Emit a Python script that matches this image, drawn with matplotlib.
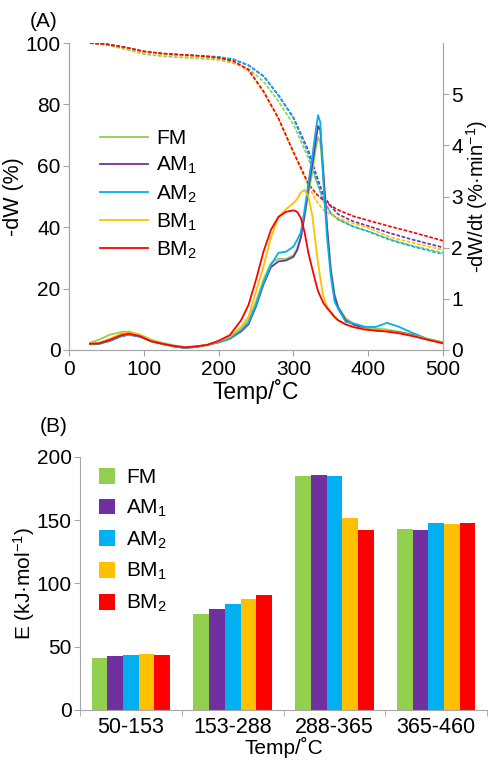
import numpy as np
import matplotlib
matplotlib.use('Agg')
import matplotlib.pyplot as plt

plt.rcParams['font.family'] = ['Liberation Sans', 'DejaVu Sans']
plt.rcParams['mathtext.fontset'] = 'custom'
plt.rcParams['mathtext.rm'] = 'Liberation Sans'
plt.rcParams['mathtext.default'] = 'rm'
plt.rcParams['font.size'] = 15

names = ['FM', 'AM$_1$', 'AM$_2$', 'BM$_1$', 'BM$_2$']
colors = ['#92D050', '#7030A0', '#00B0F0', '#FFC000', '#FF0000']

# TG curves, -dW (%)
temp_tg = [28, 50, 75, 100, 125, 150, 175, 200, 220, 240, 260, 280, 300, 320, 330, 340, 350,
           360, 380, 400, 430, 460, 500]
tg_fm = [100, 99.4, 98.0, 96.4, 95.7, 95.3, 95.0, 94.5, 93.4, 91.6, 87.5, 81.0, 73.5, 62.5, 55.5,
         48.5, 44.6, 42.5, 40.3, 38.7, 36.0, 33.9, 31.7]
tg_am1 = [100, 99.6, 98.6, 97.2, 96.5, 96.1, 95.8, 95.4, 94.6, 92.7, 89.2, 83.0, 75.8, 65.0, 57.5,
          50.5, 46.8, 44.2, 41.9, 40.4, 38.0, 35.9, 33.4]
tg_am2 = [100, 99.6, 98.6, 97.2, 96.5, 96.1, 95.8, 95.5, 94.7, 92.8, 89.3, 83.0, 75.5, 64.0, 56.0,
          49.0, 44.6, 42.5, 40.2, 38.6, 35.8, 33.7, 31.2]
tg_bm1 = [100, 99.5, 98.4, 97.0, 96.3, 95.9, 95.5, 95.0, 93.8, 91.0, 84.0, 75.3, 64.4, 53.5, 48.8,
          45.6, 44.0, 43.0, 41.2, 39.8, 36.7, 34.9, 32.6]
tg_bm2 = [100, 99.6, 98.6, 97.3, 96.6, 96.2, 95.8, 95.2, 94.1, 91.3, 84.3, 75.5, 64.5, 54.2, 51.0,
          48.8, 47.0, 45.6, 43.6, 42.2, 40.2, 38.3, 35.6]

# DTG curves, -dW/dt (%/min)
temp_dtg = [28, 40, 55, 70, 80, 95, 110, 125, 140, 155, 170, 185, 200, 215, 230, 240, 250, 260,
            270, 280, 290, 300, 305, 310, 315, 320, 325, 330, 333, 336, 340, 345, 350, 355, 360,
            370, 380, 395, 410, 425, 440, 460, 480, 500]
dtg_fm = [0.14, 0.2, 0.3, 0.35, 0.36, 0.3, 0.2, 0.14, 0.09, 0.06, 0.07, 0.1, 0.16, 0.25, 0.4,
          0.58, 0.95, 1.38, 1.7, 1.78, 1.78, 1.85, 1.98, 2.2, 2.6, 3.05, 3.45, 3.95, 4.16, 4.05,
          3.4, 2.4, 1.6, 1.1, 0.85, 0.62, 0.52, 0.46, 0.42, 0.4, 0.36, 0.3, 0.22, 0.15]
dtg_am1 = [0.12, 0.12, 0.18, 0.27, 0.3, 0.26, 0.17, 0.12, 0.07, 0.04, 0.06, 0.1, 0.15, 0.22, 0.36,
           0.5, 0.85, 1.28, 1.62, 1.73, 1.75, 1.82, 1.95, 2.2, 2.65, 3.15, 3.6, 4.1, 4.38, 4.3,
           3.5, 2.4, 1.55, 1.05, 0.82, 0.58, 0.5, 0.42, 0.38, 0.37, 0.35, 0.29, 0.2, 0.14]
dtg_am2 = [0.12, 0.12, 0.18, 0.27, 0.3, 0.26, 0.17, 0.12, 0.07, 0.04, 0.06, 0.1, 0.15, 0.22, 0.38,
           0.53, 0.88, 1.31, 1.66, 1.9, 1.92, 2.02, 2.15, 2.3, 2.74, 3.26, 3.75, 4.3, 4.59, 4.45,
           3.3, 2.2, 1.45, 0.95, 0.8, 0.55, 0.52, 0.45, 0.45, 0.53, 0.46, 0.33, 0.21, 0.15]
dtg_bm1 = [0.12, 0.14, 0.22, 0.32, 0.35, 0.29, 0.18, 0.12, 0.08, 0.05, 0.07, 0.1, 0.17, 0.26, 0.45,
           0.65, 1.14, 1.63, 2.2, 2.6, 2.75, 2.87, 2.95, 3.08, 3.13, 3.0, 2.65, 2.05, 1.7, 1.4,
           1.05, 0.85, 0.72, 0.63, 0.58, 0.5, 0.45, 0.41, 0.39, 0.37, 0.34, 0.28, 0.21, 0.14]
dtg_bm2 = [0.12, 0.13, 0.2, 0.29, 0.32, 0.27, 0.17, 0.12, 0.08, 0.05, 0.07, 0.1, 0.18, 0.29, 0.58,
           0.88, 1.37, 1.92, 2.35, 2.6, 2.7, 2.73, 2.7, 2.58, 2.3, 1.9, 1.6, 1.31, 1.15, 1.05,
           0.92, 0.82, 0.74, 0.65, 0.58, 0.5, 0.45, 0.4, 0.38, 0.36, 0.33, 0.27, 0.2, 0.13]

# activation energy bars
ranges = ['50-153', '153-288', '288-365', '365-460']
e_fm = [41, 76, 185, 143]
e_am1 = [42.5, 80, 186, 142.5]
e_am2 = [43.5, 83.5, 185, 147.5]
e_bm1 = [44, 88, 151.5, 147]
e_bm2 = [43.5, 90.5, 142.5, 147.5]

tg_all = [tg_fm, tg_am1, tg_am2, tg_bm1, tg_bm2]
dtg_all = [dtg_fm, dtg_am1, dtg_am2, dtg_bm1, dtg_bm2]
e_all = [e_fm, e_am1, e_am2, e_bm1, e_bm2]

grey = '#A6A6A6'
fig = plt.figure(figsize=(4.91, 7.64), dpi=100)

# ---- panel A ----
ax = fig.add_axes([0.1405, 0.5419, 0.7617, 0.4018])
ax2 = ax.twinx()
for tg, c in zip(tg_all, colors):
    ax.plot(temp_tg, tg, color=c, lw=1.2, ls=(0, (2.2, 1.0)))
lines = []
for dtg, c, n in zip(dtg_all, colors, names):
    l, = ax2.plot(temp_dtg, dtg, color=c, lw=1.3, label=n)
    lines.append(l)

ax.set_xlim(0, 500)
ax.set_ylim(0, 100)
ax2.set_ylim(0, 6)
ax.set_xticks(range(0, 501, 100))
ax.set_yticks(range(0, 101, 20))
ax2.set_yticks(range(0, 6))
for a in (ax, ax2):
    a.spines['top'].set_visible(False)
    for s in ('left', 'right', 'bottom'):
        a.spines[s].set_color(grey)
    a.tick_params(color=grey, length=4, labelsize=15, pad=2)
ax.tick_params(axis='x', pad=3)
ax.set_xlabel('Temp/˚C', fontsize=16.5, labelpad=0)
ax.set_ylabel('-dW (%)', fontsize=15.5, labelpad=1)
ax2.set_ylabel('-dW/dt (%·min$^{-1}$)', fontsize=14.5, labelpad=1)
ax2.legend(handles=lines, loc='upper left', bbox_to_anchor=(0.05, 0.76), frameon=False,
           fontsize=15, handlelength=2.3, handletextpad=0.4, labelspacing=0.33,
           borderaxespad=0.2)
fig.text(0.06, 0.965, '(A)', fontsize=15)

# ---- panel B ----
bx = fig.add_axes([0.163, 0.0707, 0.829, 0.3312])
x = np.arange(len(ranges))
w = 0.77 / 5
for i, (vals, c, n) in enumerate(zip(e_all, colors, names)):
    bx.bar(x - 0.385 + w * (i + 0.5), vals, width=w, color=c, label=n)
bx.set_xlim(-0.5, len(ranges) - 0.5)
bx.set_ylim(0, 200)
bx.set_yticks(range(0, 201, 50))
bx.set_xticks(x)
bx.set_xticklabels(ranges)
bx.set_xticks(np.arange(-0.5, len(ranges)), minor=True)
bx.tick_params(axis='x', which='major', length=0, labelsize=15.5, pad=5)
bx.tick_params(axis='x', which='minor', length=4, color=grey)
bx.tick_params(axis='y', length=4, color=grey, labelsize=15, pad=2)
bx.spines['top'].set_visible(False)
bx.spines['right'].set_visible(False)
bx.spines['left'].set_color(grey)
bx.spines['bottom'].set_color(grey)
bx.set_xlabel('Temp/˚C', fontsize=15, labelpad=-1)
bx.set_ylabel('E (kJ·mol$^{-1}$)', fontsize=15, labelpad=0)
bx.legend(loc='upper left', bbox_to_anchor=(0.0, 1.03), frameon=False, fontsize=15,
          handlelength=0.8, handleheight=0.8, handletextpad=0.5, labelspacing=0.5)
fig.text(0.08, 0.435, '(B)', fontsize=15)

fig.savefig('out.png', dpi=100)
